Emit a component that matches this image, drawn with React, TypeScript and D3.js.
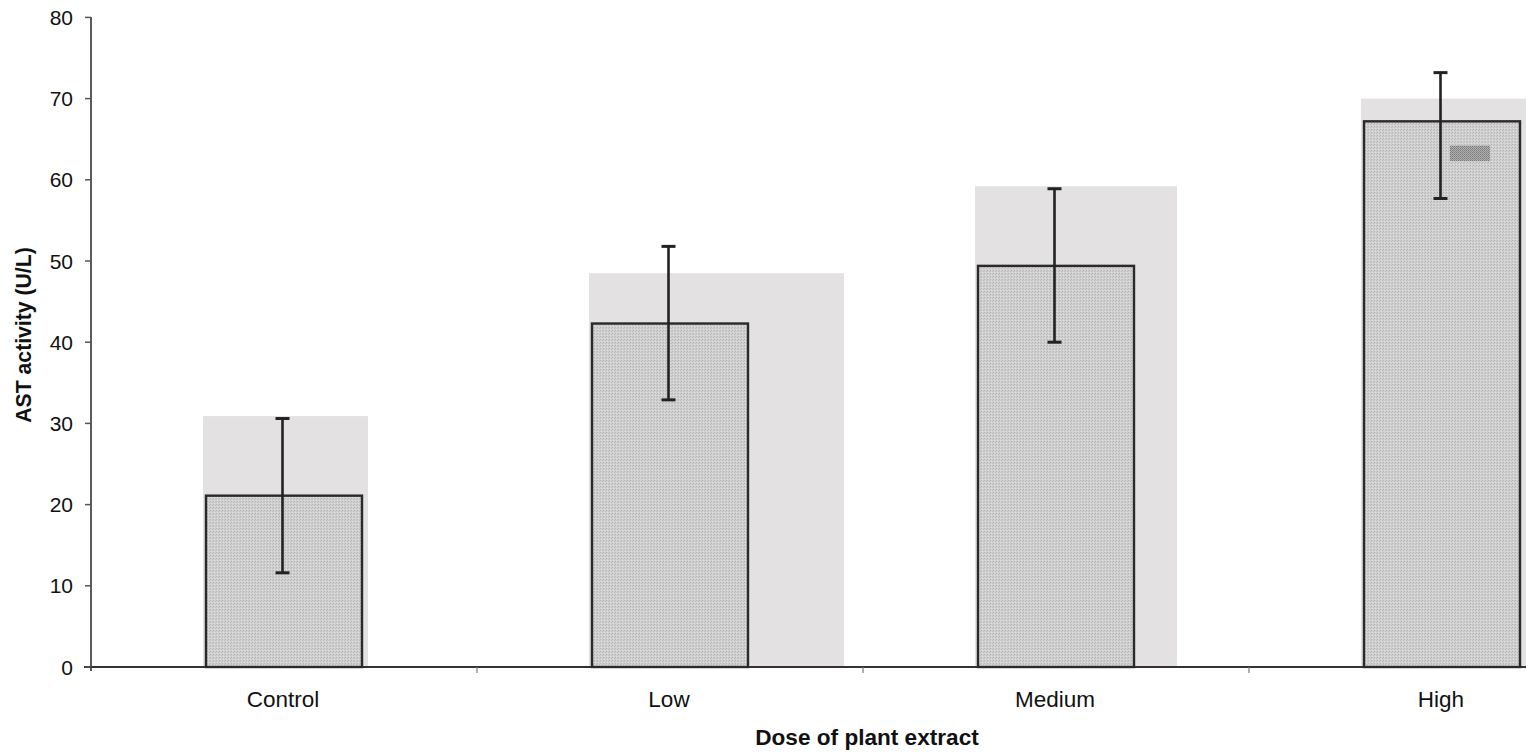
import React from "react";
import * as d3 from "d3";

const categories = ["Control", "Low", "Medium", "High"];
const meanValues = [21.1, 42.3, 49.4, 67.2];
const shadowValues = [30.9, 48.5, 59.2, 70.0];
const errLow = [11.6, 32.9, 40.0, 57.7];
const errHigh = [30.6, 51.8, 58.9, 73.2];
const yTicks = [0, 10, 20, 30, 40, 50, 60, 70, 80];
const yLabel = "AST activity (U/L)";
const xLabel = "Dose of plant extract";

// layout-only constants (scan shadow extends right of each bar by this many px)
const shadowRightExtra = [6, 96, 43, 14];

const W = 1526;
const H = 754;

export default function App() {
  const x = d3.scaleBand<string>().domain(categories).range([91, 91 + 386 * 4]).paddingInner(0).paddingOuter(0);
  const y = d3.scaleLinear().domain([0, 80]).range([667, 17.4]);
  const barW = 156;
  const font = "'Liberation Sans', Arial, sans-serif";

  return (
    <svg
      width={W}
      height={H}
      style={{ position: "absolute", left: 0, top: 0, display: "block", background: "#fff" }}
      fontFamily={font}
    >
      <defs>
        <pattern id="dots" width="3" height="3" patternUnits="userSpaceOnUse">
          <rect width="3" height="3" fill="#d0d0d0" />
          <rect x="0" y="0" width="1" height="1" fill="#b2b2b2" />
          <rect x="2" y="1" width="1" height="1" fill="#bdbdbd" />
          <rect x="1" y="2" width="1" height="1" fill="#e0e0e0" />
        </pattern>
        <pattern id="dark" width="2" height="2" patternUnits="userSpaceOnUse">
          <rect width="2" height="2" fill="#b0b0b0" />
          <rect x="0" y="0" width="1" height="1" fill="#7a7a7a" />
          <rect x="1" y="1" width="1" height="1" fill="#8a8a8a" />
        </pattern>
      </defs>

      {/* shadow bars */}
      {categories.map((c, i) => {
        const cx = (x(c) as number) + x.bandwidth() / 2;
        const x0 = cx - 81;
        const x1 = cx - 78 + barW + shadowRightExtra[i];
        return (
          <rect
            key={"s" + c}
            x={x0}
            y={y(shadowValues[i])}
            width={x1 - x0}
            height={y(0) - y(shadowValues[i])}
            fill="#e3e1e2"
          />
        );
      })}

      {/* axes */}
      <line x1={91} x2={91} y1={17} y2={671} stroke="#333" strokeWidth={1.6} />
      <line x1={84} x2={W} y1={y(0)} y2={y(0)} stroke="#333" strokeWidth={1.8} />
      {yTicks.map((t) => (
        <g key={"yt" + t}>
          <line x1={85} x2={91} y1={y(t)} y2={y(t)} stroke="#555" strokeWidth={1.5} />
          <text x={73} y={y(t)} dy="0.36em" textAnchor="end" fontSize={21} fill="#111">
            {t}
          </text>
        </g>
      ))}
      {categories.slice(1).map((c) => (
        <line
          key={"xt" + c}
          x1={x(c) as number}
          x2={x(c) as number}
          y1={y(0)}
          y2={y(0) + 6}
          stroke="#777"
          strokeWidth={1.2}
        />
      ))}

      {/* main bars */}
      {categories.map((c, i) => {
        const cx = (x(c) as number) + x.bandwidth() / 2;
        return (
          <rect
            key={"b" + c}
            x={cx - 78}
            y={y(meanValues[i])}
            width={barW}
            height={y(0) - y(meanValues[i])}
            fill="url(#dots)"
            stroke="#2a2a2a"
            strokeWidth={2.4}
          />
        );
      })}

      {/* scan artifact on the High bar */}
      {(() => {
        const cx = (x("High") as number) + x.bandwidth() / 2;
        return (
          <rect x={cx + 8} y={y(64.2)} width={40} height={y(62.3) - y(64.2)} fill="url(#dark)" />
        );
      })()}

      {/* error bars */}
      {categories.map((c, i) => {
        const cx = (x(c) as number) + x.bandwidth() / 2 - 1.5;
        return (
          <g key={"e" + c} stroke="#222">
            <line x1={cx} x2={cx} y1={y(errHigh[i])} y2={y(errLow[i])} strokeWidth={2.6} />
            <line x1={cx - 7} x2={cx + 7} y1={y(errHigh[i])} y2={y(errHigh[i])} strokeWidth={3} />
            <line x1={cx - 7} x2={cx + 7} y1={y(errLow[i])} y2={y(errLow[i])} strokeWidth={3} />
          </g>
        );
      })}

      {/* category labels */}
      {categories.map((c) => (
        <text
          key={"cl" + c}
          x={(x(c) as number) + x.bandwidth() / 2 - 1}
          y={707}
          textAnchor="middle"
          fontSize={22.5}
          fill="#111"
        >
          {c}
        </text>
      ))}

      <text x={867} y={745} textAnchor="middle" fontSize={22.6} fontWeight="bold" fill="#111">
        {xLabel}
      </text>
      <text
        transform={`translate(31,335) rotate(-90)`}
        textAnchor="middle"
        fontSize={21.2}
        fontWeight="bold"
        fill="#111"
      >
        {yLabel}
      </text>
    </svg>
  );
}
